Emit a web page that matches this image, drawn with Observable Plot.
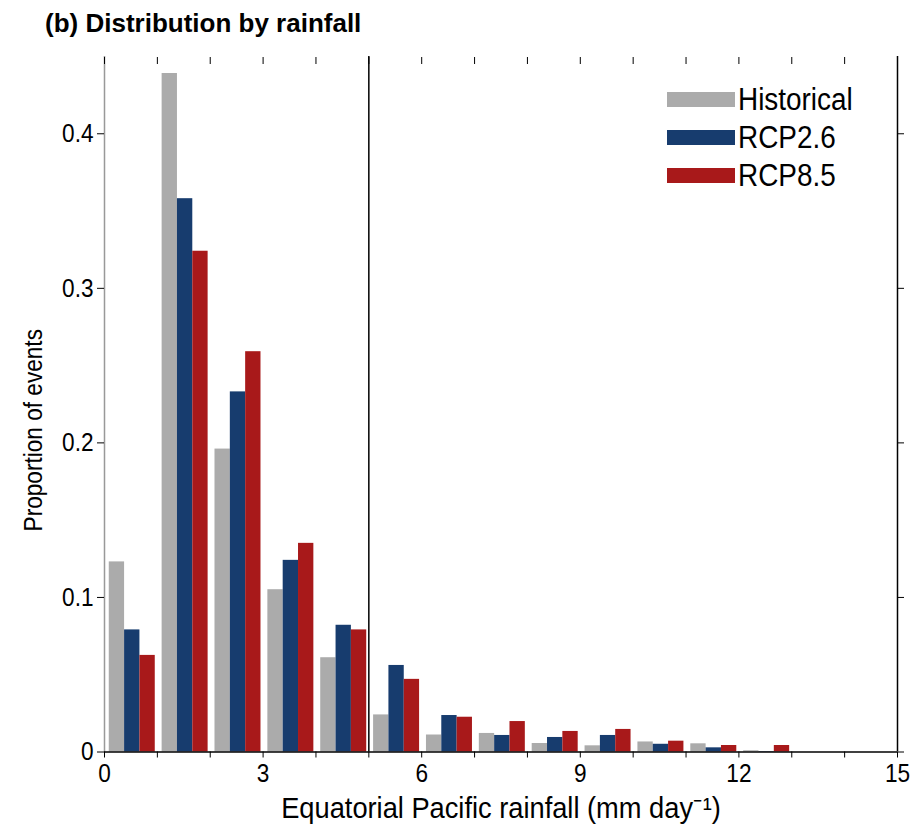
<!DOCTYPE html>
<html>
<head>
<meta charset="utf-8">
<script src="https://cdn.jsdelivr.net/npm/d3@7"></script>
<script src="https://cdn.jsdelivr.net/npm/@observablehq/plot@0.6"></script>
<style>
  body { margin: 0; background: #fff; }
  #wrap { position: relative; width: 924px; height: 833px; font-family: "Liberation Sans", Arial, sans-serif; color: #000; }
  #title { position: absolute; left: 45px; top: 10px; font-size: 26px; font-weight: bold; line-height: 26px; white-space: nowrap; }
  #chart { position: absolute; left: 0; top: 44px; }
  #legend { position: absolute; left: 667px; top: 80px; }
  .item { display: flex; align-items: center; height: 38px; }
  .sw { width: 68px; height: 15px; margin-right: 3px; flex: none; }
  .lab { font-size: 31px; line-height: 31px; transform: scaleX(0.9); transform-origin: left center; white-space: nowrap; }
</style>
</head>
<body>
<div id="wrap">
  <div id="title">(b) Distribution by rainfall</div>
  <div id="chart"></div>
  <div id="legend"></div>
</div>
<script>
// ---- data ----
const binStarts = [0, 1, 2, 3, 4, 5, 6, 7, 8, 9, 10, 11, 12, 13, 14];
const seriesNames = ["Historical", "RCP2.6", "RCP8.5"];
const seriesColors = ["#ababab", "#173c6e", "#a8191a"];
const historical = [0.123, 0.439, 0.196, 0.105, 0.061, 0.024, 0.011, 0.012, 0.0055, 0.004, 0.0065, 0.0053, 0.0008, 0, 0];
const rcp26      = [0.079, 0.358, 0.233, 0.124, 0.082, 0.056, 0.0236, 0.0107, 0.0094, 0.0107, 0.005, 0.0027, 0.0003, 0, 0];
const rcp85      = [0.0625, 0.324, 0.259, 0.135, 0.079, 0.047, 0.0225, 0.0197, 0.0133, 0.0146, 0.007, 0.0042, 0.0042, 0, 0];
const xTicks = [0, 1, 2, 3, 4, 5, 6, 7, 8, 9, 10, 11, 12, 13, 14, 15];
const xTickLabels = ["0", "", "", "3", "", "", "6", "", "", "9", "", "", "12", "", "", "15"];
const yTicks = [0, 0.1, 0.2, 0.3, 0.4];
const yTickLabels = ["0", "0.1", "0.2", "0.3", "0.4"];
const thresholdX = 5;
const xLabel = "Equatorial Pacific rainfall (mm day\u207B\u00B9)";
const yLabel = "Proportion of events";

const allValues = [historical, rcp26, rcp85];
const rows = [];
seriesNames.forEach((s, i) => binStarts.forEach((b, j) => rows.push({ series: s, si: i, bin: b, value: allValues[i][j] })));

const off = 0.09, bw = 0.29;
const font = '"Liberation Sans", Arial, sans-serif';

const chart = Plot.plot({
  width: 924,
  height: 789,
  marginTop: 12,
  marginBottom: 81.5,
  marginLeft: 104,
  marginRight: 27,
  x: { domain: [0, 15] },
  y: { domain: [0, 0.45] },
  style: { fontFamily: font, fontSize: "26px", color: "#000", background: "#fff", overflow: "visible" },
  marks: [
    Plot.rect(rows, {
      x1: d => d.bin + off + d.si * bw,
      x2: d => d.bin + off + (d.si + 1) * bw,
      y1: 0,
      y2: "value",
      fill: d => seriesColors[d.si]
    }),
    Plot.ruleX([thresholdX], { stroke: "#000", strokeWidth: 1.5 }),
    Plot.ruleX([15], { stroke: "#000", strokeWidth: 1.5 }),
    Plot.ruleX([0], { stroke: "#999", strokeWidth: 1.5 }),
    Plot.ruleY([0], { stroke: "#000", strokeWidth: 1.5 }),
    Plot.axisX({ ticks: xTicks, tickFormat: d => xTickLabels[xTicks.indexOf(d)], tickSize: 6, tickPadding: 6, label: null, fontSize: 26 }),
    Plot.axisX({ anchor: "top", ticks: xTicks, tickFormat: () => "", tickSize: -7, label: null }),
    Plot.axisY({ ticks: yTicks, tickFormat: d => yTickLabels[yTicks.indexOf(d)], tickSize: 7, tickPadding: 4, label: null, fontSize: 26 }),
    Plot.axisY({ anchor: "right", ticks: yTicks, tickFormat: () => "", tickSize: 6, label: null }),
    Plot.text([xLabel], { frameAnchor: "bottom", lineAnchor: "bottom", textAnchor: "middle", dy: 66, fontSize: 29 }),
    Plot.text([yLabel], { frameAnchor: "left", rotate: -90, textAnchor: "middle", lineAnchor: "middle", dx: -71, dy: 26, fontSize: 26 })
  ]
});

// condense SVG text horizontally (narrow Helvetica look of the original)
chart.querySelectorAll("text").forEach(t => {
  const sx = t.textContent === xLabel ? 0.94 : 0.87;
  const tr = t.getAttribute("transform");
  if (tr) {
    t.setAttribute("transform", tr + ` scale(${sx},1)`);
  } else {
    const x = +(t.getAttribute("x") || 0), y = +(t.getAttribute("y") || 0);
    t.setAttribute("x", 0); t.setAttribute("y", 0);
    t.setAttribute("transform", `translate(${x},${y}) scale(${sx},1)`);
  }
});
document.getElementById("chart").appendChild(chart);

const legend = document.getElementById("legend");
seriesNames.forEach((s, i) => {
  const it = document.createElement("div");
  it.className = "item";
  it.innerHTML = `<div class="sw" style="background:${seriesColors[i]}"></div><div class="lab">${s}</div>`;
  legend.appendChild(it);
});
</script>
</body>
</html>
